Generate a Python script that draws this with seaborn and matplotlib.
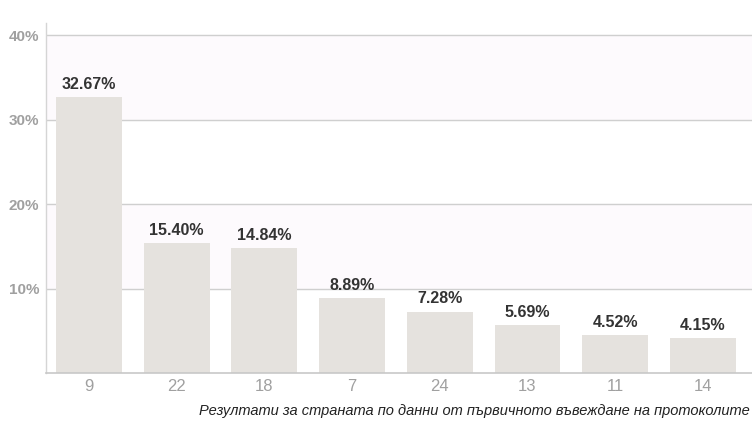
import numpy as np
import pandas as pd
import matplotlib
matplotlib.use("Agg")
import matplotlib.pyplot as plt
import seaborn as sns

# chart data
parties = ["9", "22", "18", "7", "24", "13", "11", "14"]
shares = [32.67, 15.40, 14.84, 8.89, 7.28, 5.69, 4.52, 4.15]
y_ticks = [10, 20, 30, 40]
caption = "Резултати за страната по данни от първичното въвеждане на протоколите"

df = pd.DataFrame({"party": parties, "share": shares})

sns.set_style("white")
plt.rcParams["font.family"] = ["Liberation Sans", "DejaVu Sans"]

fig = plt.figure(figsize=(7.52, 4.23), dpi=100)
ax = fig.add_axes([46 / 752, 50 / 423, (752 - 46) / 752, 350 / 423])

# alternating background bands
for lo, hi, c in [(30, 40, "#fdfafd"), (10, 20, "#fdfafd")]:
    ax.axhspan(lo, hi, color=c, zorder=0)
for t in y_ticks:
    ax.axhline(t, color="#cfcfcf", lw=1, zorder=1)

sns.barplot(data=df, x="party", y="share", order=parties, color="#e5e2de",
            width=0.75, saturation=1, linewidth=0, ax=ax, zorder=2)

for i, v in enumerate(shares):
    ax.text(i, v + 0.6, f"{v:.2f}%", ha="center", va="bottom",
            fontsize=11.5, fontweight="bold", color="#333333")

ax.set_xlim(-0.49, 7.56)
ax.set_ylim(0, 41.47)
ax.set_yticks(y_ticks)
ax.set_yticklabels([f"{t}%" for t in y_ticks], fontsize=11,
                   fontweight="bold", color="#a0a0a0")
ax.set_xticks(range(len(parties)))
ax.set_xticklabels(parties, fontsize=12, color="#a0a0a0",
                   family=["Liberation Sans Narrow", "Liberation Sans"])
ax.tick_params(axis="x", length=0, pad=4)
ax.tick_params(axis="y", length=0, pad=5)
ax.set_xlabel("")
ax.set_ylabel("")

for s in ["top", "right"]:
    ax.spines[s].set_visible(False)
ax.spines["left"].set_color("#d5d5d5")
ax.spines["bottom"].set_color("#c8c8c8")
ax.spines["left"].set_linewidth(1)
ax.spines["bottom"].set_linewidth(1.2)

fig.text(750 / 752, 1 - 411 / 423, caption, ha="right", va="center",
         fontsize=10.5, style="italic", color="#222222")

fig.savefig("out.png", dpi=100, facecolor="white")
